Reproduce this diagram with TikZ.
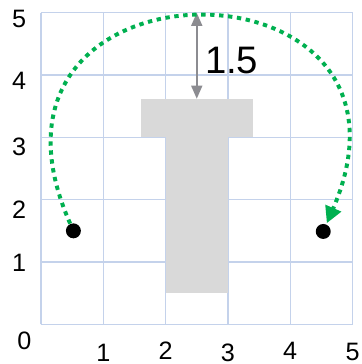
\documentclass[tikz,border=0pt]{standalone}
\usepackage{fontspec}
\setmainfont{Liberation Sans}
\usetikzlibrary{arrows.meta}
\definecolor{gridblue}{RGB}{196,210,235}
\definecolor{tgray}{RGB}{217,217,217}
\definecolor{dimgray}{RGB}{140,140,145}
\definecolor{pathgreen}{RGB}{0,176,80}
\tikzset{
  gridline/.style={draw=gridblue, line width=0.6pt},
  axislabel/.style={font=\fontsize{11.5}{13}\selectfont, inner sep=0pt},
  blackdot/.style={circle, fill=black, minimum size=0.24cm, inner sep=0pt},
  greenpath/.style={draw=pathgreen, line width=1.8pt, dash pattern=on 2pt off 2.1pt,
    -{Triangle[length=7.5pt,width=7.5pt]}, shorten >=0.5pt},
  dimarrow/.style={draw=dimgray, line width=0.9pt, {Triangle[length=6pt,width=5pt]}-{Triangle[length=6pt,width=5pt]}},
}
\begin{document}
\begin{tikzpicture}
\useasboundingbox (-0.658,-0.637) rectangle (5.136,5.205);
\draw[gridline] (0,0) grid (5,5);
% T shape
\fill[tgray] (1.6,3) rectangle (3.4,3.62);
\fill[tgray] (2,0.5) rectangle (3,3.0);
% axis labels
\node[axislabel] (x0) at (-0.265,-0.27) {0};
\node[axislabel] (x1) at (1.0,-0.45) {1};
\node[axislabel] (x2) at (2.0,-0.43) {2};
\node[axislabel] (x3) at (3.0,-0.45) {3};
\node[axislabel] (x4) at (4.0,-0.43) {4};
\node[axislabel] (x5) at (5.0,-0.45) {5};
\node[axislabel] (y1) at (-0.35,0.98) {1};
\node[axislabel] (y2) at (-0.35,1.84) {2};
\node[axislabel] (y3) at (-0.35,2.85) {3};
\node[axislabel] (y4) at (-0.35,3.9) {4};
\node[axislabel] (y5) at (-0.35,4.9) {5};
% dimension
\coordinate (dtop) at (2.5,5);
\coordinate (dbot) at (2.5,3.62);
\draw[dimarrow] (dtop) -- (dbot);
\node[font=\fontsize{17.5}{20}\selectfont, inner sep=0pt] (dimlabel) at (3.06,4.23) {1.5};
% dots
\node[blackdot] (l) at (0.52,1.5) {};
\node[blackdot] (r) at (4.53,1.49) {};
% green path
\draw[greenpath] (l) .. controls (-1.5,6.05) and (6.5,6.05) .. (r);
\end{tikzpicture}
\end{document}
